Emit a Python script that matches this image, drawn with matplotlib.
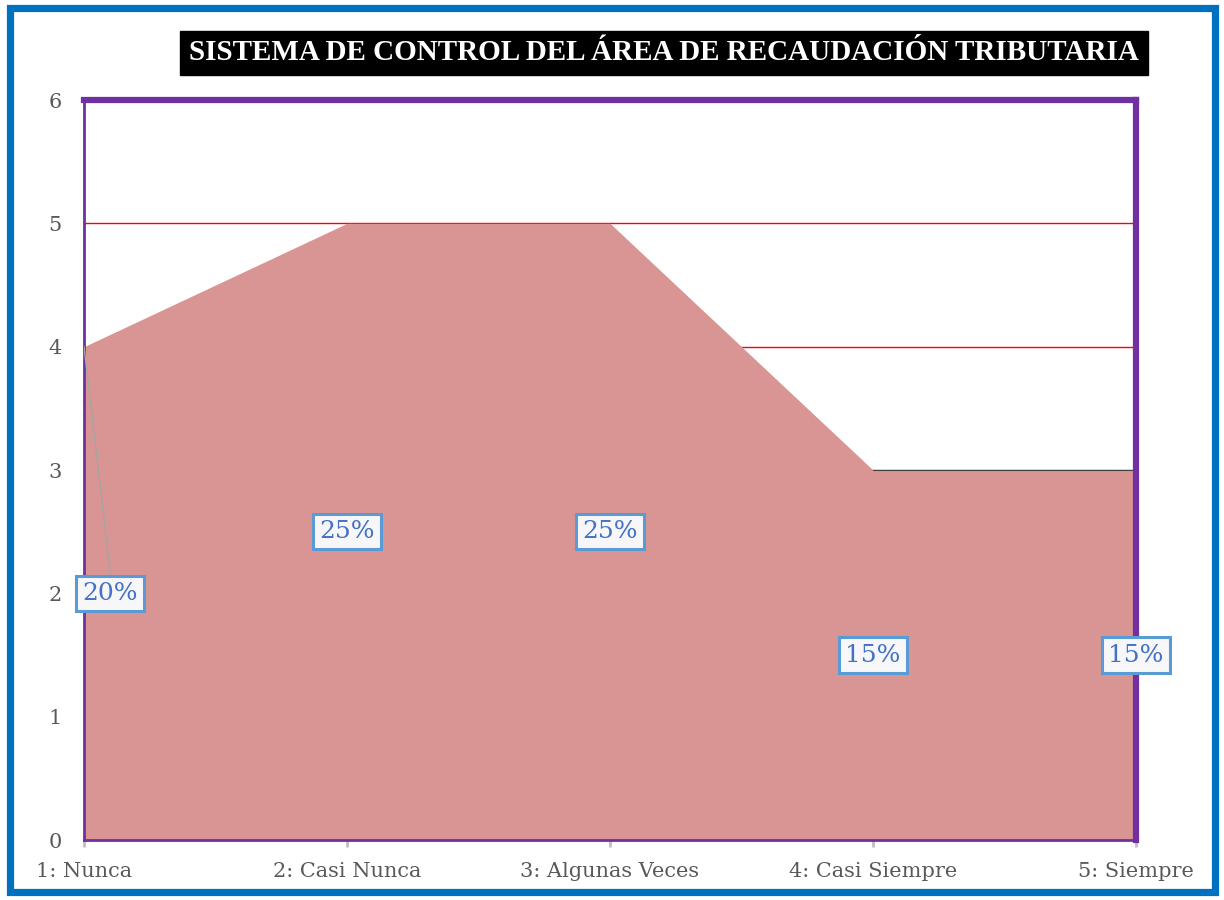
import matplotlib
matplotlib.use('Agg')
import matplotlib.pyplot as plt
from matplotlib.patches import Rectangle

categories=['1: Nunca','2: Casi Nunca','3: Algunas Veces','4: Casi Siempre','5: Siempre']
values=[4,5,5,3,3]
pct_labels=['20%','25%','25%','15%','15%']
title='SISTEMA DE CONTROL DEL ÁREA DE RECAUDACIÓN TRIBUTARIA'

W,H=1224,900
fig=plt.figure(figsize=(W/100,H/100),dpi=100)
fig.patch.set_facecolor('white')

# outer blue frame
fig.add_artist(Rectangle((9.5/W,8.5/H),(1215-9.5)/W,(892-8.5)/H,transform=fig.transFigure,
                         fill=False,edgecolor='#0070C0',linewidth=5.2,zorder=10))

ax=fig.add_axes([84/W,1-840/H,(1136-84)/W,(840-100)/H])
x=list(range(len(categories)))

for yv in range(1,7):
    ax.axhline(yv,color='#FF0000',linewidth=1.0,zorder=1)
ax.fill_between(x,values,0,color='#D99594',linewidth=0,zorder=2)
ax.plot(x[3:],values[3:],color='#404040',linewidth=0.8,zorder=2.5)

ax.set_xlim(0,len(categories)-1)
ax.set_ylim(0,6)
ax.set_yticks(range(0,7))
ax.set_xticks(x)
ax.set_xticklabels(categories)

for s in ['left','top','right','bottom']:
    ax.spines[s].set_color('#7030A0')
ax.spines['top'].set_linewidth(4.5)
ax.spines['right'].set_linewidth(4.5)
ax.spines['left'].set_linewidth(2)
ax.spines['bottom'].set_linewidth(2)
ax.spines['bottom'].set_zorder(5)

ax.tick_params(axis='y',length=0,pad=16,labelsize=15,labelcolor='#595959')
ax.tick_params(axis='x',length=5,width=2,color='#BFBFBF',pad=11,labelsize=15,labelcolor='#595959')
for t in ax.get_xticklabels()+ax.get_yticklabels():
    t.set_fontfamily('DejaVu Serif')

# data labels
for i,(v,lab) in enumerate(zip(values,pct_labels)):
    xx=i
    if i==0:
        xx=0.1
        ax.plot([0,xx],[v,v/2+0.17],color='#A5A5A5',linewidth=1,zorder=3)
    ax.text(xx,v/2,lab,ha='center',va='center',fontsize=18,color='#4472C4',
            family='DejaVu Serif',zorder=6,clip_on=False,
            bbox=dict(boxstyle='square,pad=0.25',facecolor='#F7F7FA',edgecolor='#5B9BD5',linewidth=2.2))

fig.text(664/W,1-53/H,title,ha='center',va='center',fontsize=21,fontweight='bold',
         color='white',family='Liberation Serif',
         bbox=dict(boxstyle='square,pad=0.3',facecolor='black',edgecolor='black'))

fig.savefig('out.png',dpi=100)
